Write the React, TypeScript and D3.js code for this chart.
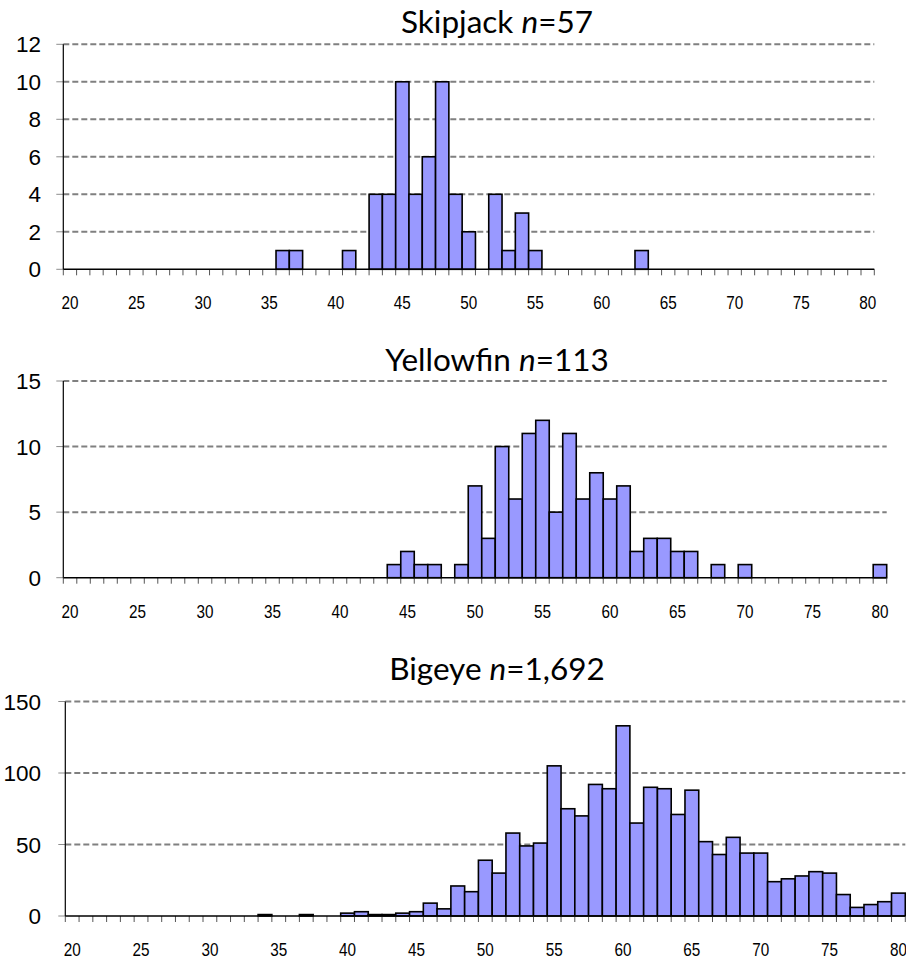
import React from "react";
import * as d3 from "d3";

const categories: number[] = [
  20, 21, 22, 23, 24, 25, 26, 27, 28, 29,
  30, 31, 32, 33, 34, 35, 36, 37, 38, 39,
  40, 41, 42, 43, 44, 45, 46, 47, 48, 49,
  50, 51, 52, 53, 54, 55, 56, 57, 58, 59,
  60, 61, 62, 63, 64, 65, 66, 67, 68, 69,
  70, 71, 72, 73, 74, 75, 76, 77, 78, 79,
  80,
];

const xTickLabels: number[] = [20, 25, 30, 35, 40, 45, 50, 55, 60, 65, 70, 75, 80];

const skipjackCounts: number[] = [
  0, 0, 0, 0, 0, 0, 0, 0, 0, 0,
  0, 0, 0, 0, 0, 0, 1, 1, 0, 0,
  0, 1, 0, 4, 4, 10, 4, 6, 10, 4,
  2, 0, 4, 1, 3, 1, 0, 0, 0, 0,
  0, 0, 0, 1, 0, 0, 0, 0, 0, 0,
  0, 0, 0, 0, 0, 0, 0, 0, 0, 0,
  0,
];
const skipjackYTicks: number[] = [0, 2, 4, 6, 8, 10, 12];

const yellowfinCounts: number[] = [
  0, 0, 0, 0, 0, 0, 0, 0, 0, 0,
  0, 0, 0, 0, 0, 0, 0, 0, 0, 0,
  0, 0, 0, 0, 1, 2, 1, 1, 0, 1,
  7, 3, 10, 6, 11, 12, 5, 11, 6, 8,
  6, 7, 2, 3, 3, 2, 2, 0, 1, 0,
  1, 0, 0, 0, 0, 0, 0, 0, 0, 0,
  1,
];
const yellowfinYTicks: number[] = [0, 5, 10, 15];

const bigeyeCounts: number[] = [
  0, 0, 0, 0, 0, 0, 0, 0, 0, 0,
  0, 0, 0, 0, 1, 0, 0, 1, 0, 0,
  2, 3, 1, 1, 2, 3, 9, 5, 21, 17,
  39, 30, 58, 49, 51, 105, 75, 70, 92, 89,
  133, 65, 90, 89, 71, 88, 52, 43, 55, 44,
  44, 24, 26, 28, 31, 30, 15, 6, 8, 10,
  16,
];
const bigeyeYTicks: number[] = [0, 50, 100, 150];

type PanelProps = {
  species: string;
  n: string;
  counts: number[];
  yTicks: number[];
  left: number;
  right: number;
  yTop: number;
  yBottom: number;
  titleY: number;
};

function Panel({ species, n, counts, yTicks, left, right, yTop, yBottom, titleY }: PanelProps) {
  const x = d3
    .scaleBand<number>()
    .domain(categories)
    .range([left, right])
    .paddingInner(0)
    .paddingOuter(0);
  const yMax = yTicks[yTicks.length - 1];
  const y = d3.scaleLinear().domain([0, yMax]).range([yBottom, yTop]);
  const bw = x.bandwidth();
  const boundaries = d3.range(categories.length + 1).map((i) => left + i * bw);

  return (
    <g>
      <text
        x={497}
        y={titleY}
        textAnchor="middle"
        fontFamily="Lato, 'Open Sans', sans-serif"
        fontSize={31.5}
        fill="#000"
      >
        {species} <tspan fontStyle="italic">n</tspan>={n}
      </text>
      {yTicks.map((t) => (
        <g key={"g" + t}>
          {t > 0 && (
            <line
              x1={left}
              x2={right}
              y1={y(t)}
              y2={y(t)}
              stroke="#808080"
              strokeWidth={2}
              strokeDasharray="6,3"
            />
          )}
          <line x1={left - 7} x2={left} y1={y(t)} y2={y(t)} stroke="#8c8c8c" strokeWidth={1} />
          <text
            x={41}
            y={y(t)}
            dy="0.36em"
            textAnchor="end"
            fontFamily="'Liberation Sans', Arial, sans-serif"
            fontSize={22.5}
            fill="#000"
          >
            {t}
          </text>
        </g>
      ))}
      {categories.map((c, i) =>
        counts[i] > 0 ? (
          <rect
            key={"b" + c}
            x={x(c)}
            y={y(counts[i])}
            width={bw}
            height={yBottom - y(counts[i])}
            fill="#9999FF"
            stroke="#000"
            strokeWidth={1.6}
          />
        ) : null
      )}
      <line x1={left} x2={left} y1={yTop} y2={yBottom} stroke="#000" strokeWidth={1.2} />
      {boundaries.map((bx, i) => (
        <line key={"t" + i} x1={bx} x2={bx} y1={yBottom} y2={yBottom + 6} stroke="#555" strokeWidth={1} />
      ))}
      <line x1={left} x2={right} y1={yBottom} y2={yBottom} stroke="#000" strokeWidth={1.6} />
      {xTickLabels.map((t) => (
        <text
          key={"x" + t}
          x={(x(t) as number) + bw / 2}
          y={yBottom + 40}
          textAnchor="middle"
          fontFamily="'Liberation Sans', Arial, sans-serif"
          fontSize={18.5}
          textLength={17}
          lengthAdjust="spacingAndGlyphs"
          fill="#000"
        >
          {t}
        </text>
      ))}
    </g>
  );
}

export default function App() {
  return (
    <svg
      width={906}
      height={960}
      style={{ position: "absolute", left: 0, top: 0, background: "#fff" }}
    >
      <rect x={0} y={0} width={906} height={960} fill="#fff" />
      <Panel
        species="Skipjack"
        n="57"
        counts={skipjackCounts}
        yTicks={skipjackYTicks}
        left={63.3}
        right={874.3}
        yTop={44.3}
        yBottom={269.3}
        titleY={33}
      />
      <Panel
        species="Yellowfin"
        n="113"
        counts={yellowfinCounts}
        yTicks={yellowfinYTicks}
        left={63.3}
        right={886.7}
        yTop={381}
        yBottom={577.7}
        titleY={371}
      />
      <Panel
        species="Bigeye"
        n="1,692"
        counts={bigeyeCounts}
        yTicks={bigeyeYTicks}
        left={65.3}
        right={905.3}
        yTop={701.5}
        yBottom={916}
        titleY={680}
      />
    </svg>
  );
}
